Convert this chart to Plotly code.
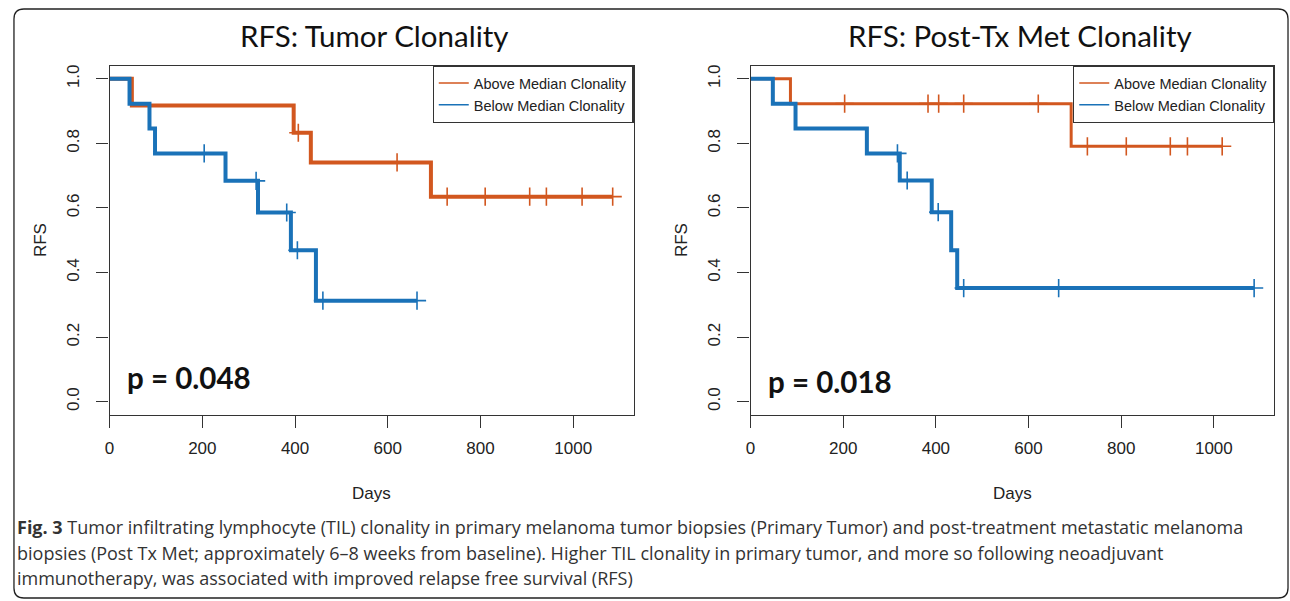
import numpy as np
import plotly.graph_objects as go

# ---------------- data ----------------
# Left panel: RFS by primary tumour clonality
left_above_t = [0, 48, 397, 434, 693, 1085]
left_above_s = [1.0, 0.917, 0.833, 0.741, 0.635, 0.635]
left_above_cens = [407, 620, 728, 810, 906, 942, 1019, 1085]

left_below_t = [0, 43, 86, 98, 250, 320, 391, 445, 663]
left_below_s = [1.0, 0.923, 0.846, 0.769, 0.684, 0.586, 0.469, 0.313, 0.313]
left_below_cens = [204, 316, 382, 405, 460, 663]

# Right panel: RFS by post-treatment metastasis clonality
right_above_t = [0, 86, 692, 1018]
right_above_s = [1.0, 0.923, 0.791, 0.791]
right_above_cens = [203, 383, 406, 460, 621, 727, 811, 906, 943, 1018]

right_below_t = [0, 48, 97, 251, 322, 391, 433, 446, 1087]
right_below_s = [1.0, 0.923, 0.846, 0.769, 0.685, 0.587, 0.469, 0.352, 0.352]
right_below_cens = [317, 338, 405, 460, 665, 1087]

titles = ["RFS: Tumor Clonality", "RFS: Post-Tx Met Clonality"]
p_values = ["p = 0.048", "p = 0.018"]
series_names = ["Above Median Clonality", "Below Median Clonality"]
x_ticks = [0, 200, 400, 600, 800, 1000]
y_ticks = [0.0, 0.2, 0.4, 0.6, 0.8, 1.0]
caption_lines = [
    "<b>Fig. 3</b> Tumor infiltrating lymphocyte (TIL) clonality in primary melanoma tumor biopsies (Primary Tumor) and post-treatment metastatic melanoma",
    "biopsies (Post Tx Met; approximately 6–8 weeks from baseline). Higher TIL clonality in primary tumor, and more so following neoadjuvant",
    "immunotherapy, was associated with improved relapse free survival (RFS)",
]

# ---------------- style ----------------
W, H = 1290, 601
ORANGE = "#D2571F"
BLUE = "#1A72B8"
FRAME = "#333333"
TICKFONT = dict(family="Liberation Sans, Arial, sans-serif", size=17, color="#222222")


def step_value(t, s, x):
    idx = np.searchsorted(np.asarray(t), np.asarray(x), side="right") - 1
    return np.asarray(s)[idx]


fig = go.Figure()

panels = [
    dict(curves=[(left_above_t, left_above_s, left_above_cens, ORANGE, 4),
                 (left_below_t, left_below_s, left_below_cens, BLUE, 4)],
         xa="x", ya="y", legend="legend"),
    dict(curves=[(right_above_t, right_above_s, right_above_cens, ORANGE, 3),
                 (right_below_t, right_below_s, right_below_cens, BLUE, 4)],
         xa="x2", ya="y2", legend="legend2"),
]

for p in panels:
    for (t, s, cens, col, lw) in p["curves"]:
        fig.add_trace(go.Scatter(x=t, y=s, mode="lines", line=dict(color=col, width=lw, shape="hv"),
                                 xaxis=p["xa"], yaxis=p["ya"], showlegend=False, hoverinfo="skip"))
        fig.add_trace(go.Scatter(x=cens, y=step_value(t, s, cens), mode="markers",
                                 marker=dict(symbol="cross-thin", size=13, line=dict(color=col, width=1.6)),
                                 xaxis=p["xa"], yaxis=p["ya"], showlegend=False, hoverinfo="skip"))
    # legend-only entries (thin lines as in the reference legend)
    for name, col in zip(series_names, [ORANGE, BLUE]):
        fig.add_trace(go.Scatter(x=[None], y=[None], mode="lines", name=name,
                                 line=dict(color=col, width=1.5), xaxis=p["xa"], yaxis=p["ya"],
                                 legend=p["legend"], showlegend=True))

# plot frames (pixel positions -> paper fractions)
x_dom = [[105 / W, 631 / W], [748.5 / W, 1274 / W]]
y_dom = [1 - 414.3 / H, 1 - 65 / H]
title_cx = [370.5 / W, 1018.5 / W]

axis_common = dict(showline=True, mirror=True, linecolor=FRAME, linewidth=1.2,
                   ticks="outside", ticklen=12, tickwidth=1.2, tickcolor=FRAME,
                   showgrid=False, zeroline=False, tickfont=TICKFONT)

layout = dict(width=W, height=H, margin=dict(l=0, r=0, t=0, b=0),
              paper_bgcolor="white", plot_bgcolor="white", showlegend=True)
for i, (xa, ya) in enumerate([("xaxis", "yaxis"), ("xaxis2", "yaxis2")]):
    layout[xa] = dict(domain=x_dom[i], range=[0, 1130], tickvals=x_ticks, ticklabelstandoff=6,
                      anchor="y" if i == 0 else "y2", **axis_common)
    layout[ya] = dict(domain=y_dom, range=[-0.04, 1.04], tickvals=y_ticks,
                      ticktext=[f"{v:.1f}" for v in y_ticks], tickangle=-90, ticklabelstandoff=11,
                      anchor="x" if i == 0 else "x2", **axis_common)
    legkey = "legend" if i == 0 else "legend2"
    layout[legkey] = dict(x=x_dom[i][1], xanchor="right", y=y_dom[1], yanchor="top",
                          bgcolor="white", bordercolor=FRAME, borderwidth=1.2,
                          font=dict(family="Liberation Sans, Arial, sans-serif", size=14.5, color="#222222"),
                          itemwidth=30, tracegroupgap=0)
fig.update_layout(**layout)

ann = []
for i in range(2):
    cx = (x_dom[i][0] + x_dom[i][1]) / 2
    ann.append(dict(text=titles[i], xref="paper", yref="paper", x=title_cx[i], y=1 - 35 / H,
                    xanchor="center", yanchor="middle", showarrow=False,
                    font=dict(family="Lato, sans-serif", size=29.5, color="#111111")))
    ann.append(dict(text="Days", xref="paper", yref="paper", x=cx, y=1 - 493 / H,
                    xanchor="center", yanchor="middle", showarrow=False,
                    font=dict(family="Liberation Sans, Arial, sans-serif", size=17, color="#222222")))
    ann.append(dict(text="RFS", xref="paper", yref="paper", x=x_dom[i][0] - 70 / W,
                    y=(y_dom[0] + y_dom[1]) / 2, textangle=-90,
                    xanchor="center", yanchor="middle", showarrow=False,
                    font=dict(family="Liberation Sans, Arial, sans-serif", size=17, color="#222222")))
    ann.append(dict(text=f"<b>{p_values[i]}</b>", xref="x" if i == 0 else "x2", yref="y" if i == 0 else "y2",
                    x=33, y=0.075 if i == 0 else 0.063, xanchor="left", yanchor="middle", showarrow=False,
                    font=dict(family="Lato, sans-serif", size=29.5, color="#111111")))
for j, line in enumerate(caption_lines):
    ann.append(dict(text=line, xref="paper", yref="paper", x=10 / W, y=1 - (527 + 25.5 * j) / H,
                    xanchor="left", yanchor="middle", showarrow=False,
                    font=dict(family="Open Sans, sans-serif", size=18.0, color="#333333")))
fig.update_layout(annotations=ann)

# outer rounded border
x0, x1, y0, y1 = 9 / W, 1288 / W, 1 - 598 / H, 1 - 8 / H
rx, ry = 10 / W, 10 / H
path = (f"M {x0 + rx},{y1} L {x1 - rx},{y1} Q {x1},{y1} {x1},{y1 - ry} "
        f"L {x1},{y0 + ry} Q {x1},{y0} {x1 - rx},{y0} L {x0 + rx},{y0} "
        f"Q {x0},{y0} {x0},{y0 + ry} L {x0},{y1 - ry} Q {x0},{y1} {x0 + rx},{y1} Z")
fig.add_shape(type="path", path=path, xref="paper", yref="paper",
              line=dict(color="#222222", width=1.3), layer="below")

fig.write_html("out.html", config={"displayModeBar": False},
               post_script="document.body.style.margin='0';")
